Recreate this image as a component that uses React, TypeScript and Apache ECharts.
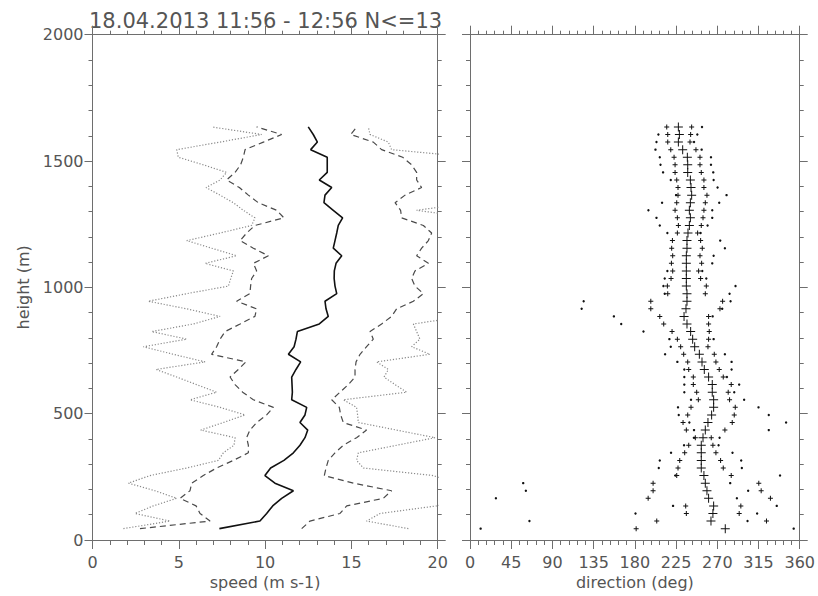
import React, { useEffect, useRef } from "react";
import * as echarts from "echarts";

// heights (m) of the profile levels, bottom to top
const heights = [45, 75, 105, 135, 165, 195, 225, 255, 285, 315, 345, 375, 405, 435, 465, 495, 525, 555, 585, 615, 645, 675, 705, 735, 765, 795, 825, 855, 885, 915, 945, 975, 1005, 1035, 1065, 1095, 1125, 1155, 1185, 1215, 1245, 1275, 1305, 1335, 1365, 1395, 1425, 1455, 1485, 1515, 1545, 1575, 1605, 1635];

// wind speed (m s-1)
const speedMedian = [7.35, 9.7, 10.09, 10.44, 10.96, 11.64, 10.57, 9.99, 10.32, 11.09, 11.64, 12.02, 12.31, 12.47, 12.02, 12.31, 12.41, 11.54, 11.58, 11.56, 11.54, 11.79, 12.06, 11.35, 11.68, 11.79, 11.87, 13.14, 13.66, 13.53, 13.47, 14.15, 14.05, 14.0, 14.01, 14.11, 14.44, 13.95, 14.05, 14.15, 14.24, 14.49, 13.95, 13.41, 13.47, 13.86, 13.14, 13.6, 13.6, 13.6, 12.64, 13.03, 12.79, 12.5];
const speedLowQ = [2.75, 6.81, 6.23, 6.0, 5.07, 5.65, 5.75, 6.42, 7.19, 8.16, 9.03, 9.03, 8.93, 9.12, 9.51, 10.09, 10.48, 9.32, 8.7, 8.26, 7.97, 8.45, 8.89, 6.9, 7.19, 7.39, 7.68, 8.55, 9.41, 9.51, 8.35, 9.12, 9.16, 9.22, 9.51, 9.32, 10.19, 9.32, 8.55, 8.93, 9.41, 11.09, 10.67, 9.61, 9.03, 8.51, 7.77, 8.26, 8.58, 8.74, 8.84, 9.9, 10.96, 9.51];
const speedHighQ = [12.12, 12.6, 14.34, 14.73, 16.85, 17.33, 15.11, 13.43, 13.53, 13.66, 14.05, 14.53, 15.3, 15.88, 14.53, 14.38, 14.3, 13.86, 14.34, 14.82, 15.21, 15.21, 15.27, 15.5, 15.88, 16.27, 16.08, 16.75, 17.33, 17.62, 18.59, 19.17, 18.68, 18.49, 18.68, 19.46, 18.78, 19.07, 19.46, 19.65, 19.17, 17.91, 17.85, 17.53, 18.11, 19.07, 18.78, 18.78, 18.49, 17.97, 16.75, 16.27, 14.96, 15.31];
const speedMin = [1.79, 4.49, 2.46, 3.52, 4.88, 3.62, 2.08, 3.33, 5.46, 7.29, 7.58, 8.2, 8.26, 6.27, 7.58, 8.84, 7.39, 5.65, 7.19, 6.03, 4.88, 3.68, 6.52, 4.68, 2.95, 5.46, 3.43, 5.84, 7.39, 5.46, 3.23, 5.46, 7.87, 8.01, 8.16, 6.52, 8.35, 6.9, 5.46, 7.39, 9.22, 9.41, 8.74, 8.16, 7.39, 6.58, 7.39, 7.77, 6.42, 4.97, 4.88, 7.39, 9.8, 6.9];
const speedMax = [18.3, 15.88, 16.66, 19.94, 22, 22, 21, 19.75, 15.69, 15.3, 15.4, 17.62, 19.84, 17.62, 15.4, 15.36, 15.3, 14.53, 18.2, 17.53, 16.89, 17.14, 16.46, 19.55, 18.49, 18.97, 18.78, 18.59, 21.5, 22, 22, 22, 22, 22, 22, 22, 22, 22, 22, 22, 22, 22, 18.78, 22, 22, 22, 22, 22, 22, 22, 17.33, 17.14, 16.08, 15.98];

// wind direction (deg)
const dirMedian = [278.7, 263.1, 265.2, 266.0, 260.5, 258.7, 256.9, 255.4, 252.5, 252.5, 252.5, 252.5, 254.4, 256.9, 259.8, 263.8, 266.0, 266.0, 264.5, 264.5, 260.5, 255.8, 253.3, 250.4, 245.3, 243.1, 240.9, 236.9, 233.7, 235.8, 236.9, 236.9, 236.2, 236.2, 236.2, 236.2, 236.2, 236.9, 236.9, 238.0, 239.5, 240.6, 239.5, 240.6, 242.0, 241.3, 240.6, 237.7, 237.7, 237.3, 232.2, 227.5, 228.6, 227.5];
const dirInnerLow = [181.4, 203.9, 236.2, 235.5, 194.5, 199.9, 199.9, 225.7, 227.1, 229.0, 234.4, 238.8, 246.0, 236.2, 232.6, 237.7, 241.3, 249.3, 247.5, 243.8, 243.8, 238.8, 237.7, 233.3, 230.0, 226.4, 220.6, 211.5, 207.2, 197.4, 197.4, 215.9, 215.5, 219.5, 221.3, 219.9, 221.3, 220.2, 221.0, 226.4, 227.5, 226.4, 223.9, 225.7, 227.1, 227.1, 225.7, 223.9, 223.9, 222.8, 219.2, 215.9, 215.9, 214.8];
const dirInnerHigh = [null, 323.7, 293.9, 295.7, 328.0, 317.9, 315.3, 285.2, 276.5, 273.6, 268.5, 265.2, 263.4, 278.3, 286.3, 288.5, 289.6, 283.4, 281.9, 285.2, 276.5, 272.1, 268.5, 266.7, 259.8, 260.5, 261.2, 260.5, 260.5, 272.9, 275.8, 256.9, 258.0, 251.8, 249.6, 252.9, 251.1, 253.6, 251.8, 248.5, 252.5, 254.4, 255.4, 256.9, 258.7, 255.4, 255.4, 252.5, 251.1, 251.1, 246.7, 240.2, 240.9, 242.0];
const dirOuterLow = [11.6, 64.9, 180.7, 221.7, 28.3, 61.0, 58.1, 224.2, 206.1, 207.2, 219.5, 233.7, 244.6, 244.6, 239.5, 227.9, 227.1, 241.3, 234.0, 234.0, 234.0, 234.0, 226.4, 213.0, 219.2, 217.7, 189.4, 165.1, 157.1, 121.9, 124.1, 212.6, 211.2, 212.6, 215.5, null, null, null, null, 215.5, 207.2, 203.6, 194.8, 209.7, 225.0, null, 219.2, 210.8, 208.0, 207.2, 202.5, 203.6, 205.7, null];
const dirOuterHigh = [353.4, 303.0, 313.5, 334.9, 291.4, 303.7, 284.1, 338.5, 296.8, 296.1, 286.6, 271.4, 272.5, 326.2, 345.1, 326.2, 315.0, 299.3, 288.5, 293.9, 280.5, 285.6, 285.6, 278.3, null, 266.0, null, null, 264.9, 275.4, 284.5, 283.4, 289.9, 258.0, 253.6, 264.5, 266.0, 278.3, 273.2, 251.8, 259.4, 264.5, 264.5, 272.1, 280.1, 270.3, 266.0, 265.6, 263.1, 263.1, 252.9, 244.6, 248.2, 253.3];

const titleText = "18.04.2013 11:56 - 12:56 N<=13";

const FONT = "DejaVu Sans";
const AX = "#6e6e6e";
const LBL = "#555555";

const BIG_PLUS = "path://M4,0H5V4H9V5H5V9H4V5H0V4H4Z";
const SMALL_PLUS = "path://M2,0H3V2H5V3H3V5H2V3H0V2H2Z";

function pairs(xs: (number | null)[]) {
  const out: number[][] = [];
  heights.forEach((h, i) => {
    const v = xs[i];
    if (v !== null && v !== undefined) out.push([v, h]);
  });
  return out;
}

const plain = (v: number) => String(v);

function axisBase(extra: any) {
  return {
    type: "value",
    axisLine: { show: true, onZero: false, lineStyle: { color: AX, width: 1 } },
    axisTick: { show: true, length: 9, lineStyle: { color: AX, width: 1 } },
    minorTick: { show: true, splitNumber: 5, length: 5, lineStyle: { color: AX, width: 1 } },
    splitLine: { show: false },
    minorSplitLine: { show: false },
    axisLabel: { show: false },
    ...extra,
  };
}

export default function App() {
  const ref = useRef<HTMLDivElement>(null);
  useEffect(() => {
    document.body.style.margin = "0";
    const chart = echarts.init(ref.current!, null, { renderer: "svg" });
    const labelStyle = { show: true, color: LBL, fontSize: 16, fontFamily: FONT, formatter: plain };
    const nameStyle = { color: LBL, fontSize: 16, fontFamily: FONT };
    const lineS = (data: number[], color: string, width: number, type: any) => ({
      type: "line",
      xAxisIndex: 0,
      yAxisIndex: 0,
      data: pairs(data),
      showSymbol: false,
      symbol: "none",
      clip: true,
      lineStyle: { color, width, type },
      z: 3,
    });
    const scat = (data: (number | null)[], symbol: string, size: number) => ({
      type: "scatter",
      xAxisIndex: 2,
      yAxisIndex: 2,
      data: pairs(data),
      symbol,
      symbolSize: size,
      itemStyle: { color: "#111111", opacity: 1 },
      clip: true,
      z: 3,
    });
    const sideTicks = (len: number, minorLen: number) => ({
      axisTick: { show: true, length: len, lineStyle: { color: AX } },
      minorTick: { show: true, splitNumber: 5, length: minorLen, lineStyle: { color: AX } },
    });
    const option: any = {
      animation: false,
      backgroundColor: "#ffffff",
      textStyle: { fontFamily: FONT },
      graphic: [
        {
          type: "text",
          x: 89,
          y: 20.5,
          style: { text: titleText, fill: LBL, fontSize: 21, fontFamily: FONT, verticalAlign: "middle", align: "left" },
        },
      ],
      grid: [
        { left: 92.5, top: 34.7, width: 345.2, height: 505.3 },
        { left: 470, top: 34.7, width: 330.7, height: 505.3 },
      ],
      xAxis: [
        axisBase({
          gridIndex: 0, min: 0, max: 20, interval: 5, position: "bottom",
          axisLabel: { ...labelStyle, margin: 14 },
          name: "speed (m s-1)", nameLocation: "middle", nameGap: 34, nameTextStyle: nameStyle,
        }),
        axisBase({ gridIndex: 0, min: 0, max: 20, interval: 5, position: "top", ...sideTicks(9, 4) }),
        axisBase({
          gridIndex: 1, min: 0, max: 360, interval: 45, position: "bottom",
          axisLabel: { ...labelStyle, margin: 14 },
          name: "direction (deg)", nameLocation: "middle", nameGap: 34, nameTextStyle: nameStyle,
        }),
        axisBase({ gridIndex: 1, min: 0, max: 360, interval: 45, position: "top", ...sideTicks(9, 4) }),
      ],
      yAxis: [
        axisBase({
          gridIndex: 0, min: 0, max: 2000, interval: 500, position: "left",
          ...sideTicks(8, 4),
          axisLabel: { ...labelStyle, margin: 9 },
          name: "height (m)", nameLocation: "middle", nameGap: 61, nameTextStyle: nameStyle,
        }),
        axisBase({ gridIndex: 0, min: 0, max: 2000, interval: 500, position: "right", ...sideTicks(8, 4) }),
        axisBase({ gridIndex: 1, min: 0, max: 2000, interval: 500, position: "left", ...sideTicks(8, 4) }),
        axisBase({ gridIndex: 1, min: 0, max: 2000, interval: 500, position: "right", ...sideTicks(8, 4) }),
      ],
      series: [
        lineS(speedMin, "#8a8a8a", 1.2, [1.2, 1.8]),
        lineS(speedMax, "#8a8a8a", 1.2, [1.2, 1.8]),
        lineS(speedLowQ, "#4a4a4a", 1.2, [6, 4]),
        lineS(speedHighQ, "#4a4a4a", 1.2, [6, 4]),
        lineS(speedMedian, "#111111", 1.6, "solid"),
        scat(dirOuterLow, "circle", 2.4),
        scat(dirOuterHigh, "circle", 2.4),
        scat(dirInnerLow, SMALL_PLUS, 5),
        scat(dirInnerHigh, SMALL_PLUS, 5),
        scat(dirMedian, BIG_PLUS, 9),
      ],
    };
    chart.setOption(option);
    return () => chart.dispose();
  }, []);
  return <div ref={ref} style={{ width: 818, height: 596 }} />;
}
